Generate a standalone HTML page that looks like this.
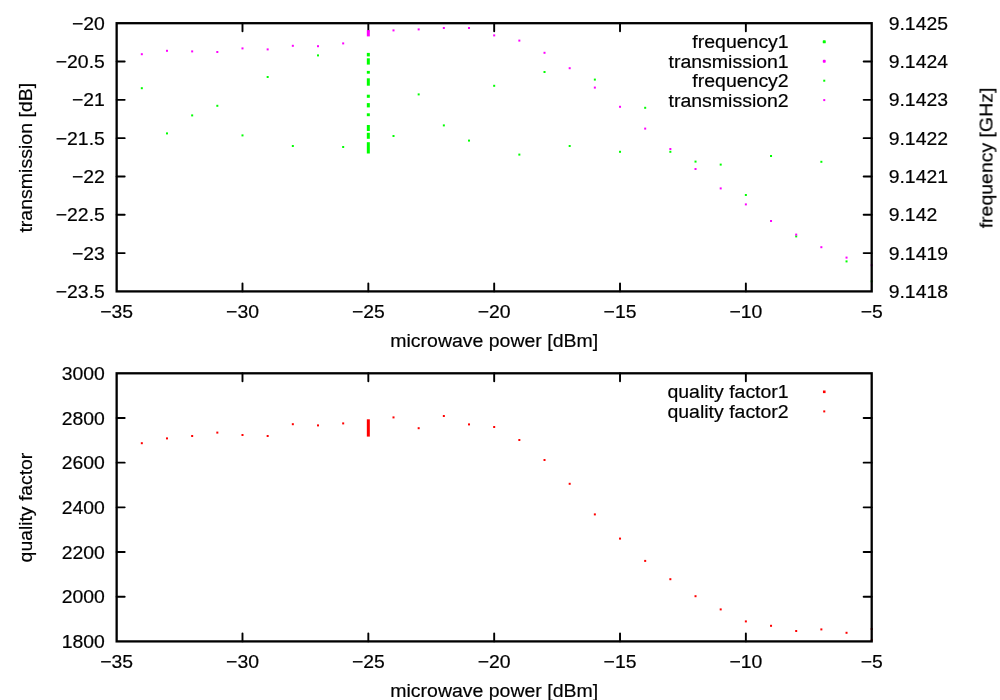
<!DOCTYPE html>
<html lang="en"><head><meta charset="utf-8"><title>plot</title>
<style>html,body{margin:0;padding:0;background:#fff;}svg{display:block;}text{font-family:"Liberation Sans",sans-serif;font-size:18.2px;fill:#000;stroke:#000;stroke-width:0.2px;}text.l{font-size:19.2px;}text.r{font-size:19.2px;}</style>
</head><body>
<svg width="1000" height="700" viewBox="0 0 1000 700">
<rect x="0" y="0" width="1000" height="700" fill="#fff"/>
<path d="M116.65 61.51h8.05M871.70 61.51h-8.05M116.65 99.83h8.05M871.70 99.83h-8.05M116.65 138.14h8.05M871.70 138.14h-8.05M116.65 176.46h8.05M871.70 176.46h-8.05M116.65 214.77h8.05M871.70 214.77h-8.05M116.65 253.09h8.05M871.70 253.09h-8.05M242.49 291.40v-8.05M242.49 23.20v8.05M368.33 291.40v-8.05M368.33 23.20v8.05M494.18 291.40v-8.05M494.18 23.20v8.05M620.02 291.40v-8.05M620.02 23.20v8.05M745.86 291.40v-8.05M745.86 23.20v8.05" stroke="#000" stroke-width="1.9" stroke-linecap="round" fill="none"/>
<path d="M116.65 417.98h8.05M871.70 417.98h-8.05M116.65 462.67h8.05M871.70 462.67h-8.05M116.65 507.35h8.05M871.70 507.35h-8.05M116.65 552.03h8.05M871.70 552.03h-8.05M116.65 596.72h8.05M871.70 596.72h-8.05M242.49 641.40v-8.05M242.49 373.30v8.05M368.33 641.40v-8.05M368.33 373.30v8.05M494.18 641.40v-8.05M494.18 373.30v8.05M620.02 641.40v-8.05M620.02 373.30v8.05M745.86 641.40v-8.05M745.86 373.30v8.05" stroke="#000" stroke-width="1.9" stroke-linecap="round" fill="none"/>
<g fill="#00ff00"><rect x="140.82" y="87.20" width="2.00" height="2.00"/><rect x="165.99" y="132.40" width="2.00" height="2.00"/><rect x="191.16" y="114.40" width="2.00" height="2.00"/><rect x="216.32" y="104.80" width="2.00" height="2.00"/><rect x="241.49" y="134.40" width="2.00" height="2.00"/><rect x="266.66" y="76.00" width="2.00" height="2.00"/><rect x="291.83" y="145.00" width="2.00" height="2.00"/><rect x="317.00" y="54.40" width="2.00" height="2.00"/><rect x="342.17" y="146.00" width="2.00" height="2.00"/><rect x="392.50" y="135.00" width="2.00" height="2.00"/><rect x="417.67" y="93.40" width="2.00" height="2.00"/><rect x="442.84" y="124.40" width="2.00" height="2.00"/><rect x="468.01" y="139.60" width="2.00" height="2.00"/><rect x="493.18" y="84.80" width="2.00" height="2.00"/><rect x="518.34" y="153.60" width="2.00" height="2.00"/><rect x="543.51" y="71.00" width="2.00" height="2.00"/><rect x="568.68" y="145.00" width="2.00" height="2.00"/><rect x="593.85" y="78.60" width="2.00" height="2.00"/><rect x="619.02" y="150.80" width="2.00" height="2.00"/><rect x="644.18" y="106.80" width="2.00" height="2.00"/><rect x="669.35" y="150.80" width="2.00" height="2.00"/><rect x="694.52" y="160.60" width="2.00" height="2.00"/><rect x="719.69" y="163.60" width="2.00" height="2.00"/><rect x="744.86" y="194.00" width="2.00" height="2.00"/><rect x="770.03" y="155.00" width="2.00" height="2.00"/><rect x="795.20" y="235.40" width="2.00" height="2.00"/><rect x="820.36" y="160.80" width="2.00" height="2.00"/><rect x="845.53" y="260.40" width="2.00" height="2.00"/><rect x="870.70" y="280.30" width="2.00" height="2.00"/></g>
<g fill="#00ff00"><rect x="366.83" y="52.90" width="3.00" height="3.50"/><rect x="366.83" y="58.30" width="3.00" height="6.30"/><rect x="366.83" y="70.90" width="3.00" height="2.80"/><rect x="366.83" y="78.30" width="3.00" height="7.40"/><rect x="366.83" y="94.70" width="3.00" height="3.10"/><rect x="366.83" y="103.10" width="3.00" height="4.30"/><rect x="366.83" y="113.30" width="3.00" height="2.90"/><rect x="366.83" y="125.00" width="3.00" height="6.00"/><rect x="366.83" y="132.80" width="3.00" height="6.00"/><rect x="366.83" y="142.20" width="3.00" height="11.30"/></g>
<g fill="#ff00ff"><rect x="140.82" y="53.20" width="2.00" height="2.00"/><rect x="165.99" y="49.80" width="2.00" height="2.00"/><rect x="191.16" y="50.40" width="2.00" height="2.00"/><rect x="216.32" y="51.00" width="2.00" height="2.00"/><rect x="241.49" y="47.40" width="2.00" height="2.00"/><rect x="266.66" y="48.40" width="2.00" height="2.00"/><rect x="291.83" y="44.80" width="2.00" height="2.00"/><rect x="317.00" y="45.20" width="2.00" height="2.00"/><rect x="342.17" y="42.40" width="2.00" height="2.00"/><rect x="392.50" y="29.40" width="2.00" height="2.00"/><rect x="417.67" y="28.40" width="2.00" height="2.00"/><rect x="442.84" y="27.00" width="2.00" height="2.00"/><rect x="468.01" y="27.00" width="2.00" height="2.00"/><rect x="493.18" y="34.40" width="2.00" height="2.00"/><rect x="518.34" y="39.60" width="2.00" height="2.00"/><rect x="543.51" y="51.80" width="2.00" height="2.00"/><rect x="568.68" y="67.20" width="2.00" height="2.00"/><rect x="593.85" y="86.60" width="2.00" height="2.00"/><rect x="619.02" y="105.80" width="2.00" height="2.00"/><rect x="644.18" y="127.60" width="2.00" height="2.00"/><rect x="669.35" y="148.00" width="2.00" height="2.00"/><rect x="694.52" y="168.00" width="2.00" height="2.00"/><rect x="719.69" y="187.40" width="2.00" height="2.00"/><rect x="744.86" y="203.40" width="2.00" height="2.00"/><rect x="770.03" y="220.00" width="2.00" height="2.00"/><rect x="795.20" y="233.60" width="2.00" height="2.00"/><rect x="820.36" y="246.20" width="2.00" height="2.00"/><rect x="845.53" y="256.60" width="2.00" height="2.00"/><rect x="870.70" y="264.20" width="2.00" height="2.00"/></g>
<g fill="#ff00ff"><rect x="366.83" y="30.10" width="3.00" height="6.30"/></g>
<g fill="#ff0000"><rect x="140.82" y="442.20" width="2.00" height="2.00"/><rect x="165.99" y="437.40" width="2.00" height="2.00"/><rect x="191.16" y="435.00" width="2.00" height="2.00"/><rect x="216.32" y="431.60" width="2.00" height="2.00"/><rect x="241.49" y="434.00" width="2.00" height="2.00"/><rect x="266.66" y="435.00" width="2.00" height="2.00"/><rect x="291.83" y="423.20" width="2.00" height="2.00"/><rect x="317.00" y="424.40" width="2.00" height="2.00"/><rect x="342.17" y="422.40" width="2.00" height="2.00"/><rect x="392.50" y="416.40" width="2.00" height="2.00"/><rect x="417.67" y="427.20" width="2.00" height="2.00"/><rect x="442.84" y="415.00" width="2.00" height="2.00"/><rect x="468.01" y="423.40" width="2.00" height="2.00"/><rect x="493.18" y="426.00" width="2.00" height="2.00"/><rect x="518.34" y="439.00" width="2.00" height="2.00"/><rect x="543.51" y="459.00" width="2.00" height="2.00"/><rect x="568.68" y="482.80" width="2.00" height="2.00"/><rect x="593.85" y="513.40" width="2.00" height="2.00"/><rect x="619.02" y="537.60" width="2.00" height="2.00"/><rect x="644.18" y="559.90" width="2.00" height="2.00"/><rect x="669.35" y="578.20" width="2.00" height="2.00"/><rect x="694.52" y="595.20" width="2.00" height="2.00"/><rect x="719.69" y="608.40" width="2.00" height="2.00"/><rect x="744.86" y="620.40" width="2.00" height="2.00"/><rect x="770.03" y="624.80" width="2.00" height="2.00"/><rect x="795.20" y="630.00" width="2.00" height="2.00"/><rect x="820.36" y="628.40" width="2.00" height="2.00"/><rect x="845.53" y="631.80" width="2.00" height="2.00"/><rect x="870.70" y="628.00" width="2.00" height="2.00"/><rect x="870.70" y="639.20" width="2.00" height="2.00"/></g>
<g fill="#ff0000"><rect x="366.83" y="419.30" width="3.00" height="17.30"/></g>
<g fill="#00ff00"><rect x="822.75" y="40.35" width="3.00" height="3.00" rx="0.7"/></g>
<g fill="#ff00ff"><rect x="822.80" y="59.85" width="2.90" height="2.90" rx="0.8"/></g>
<g fill="#00ff00"><rect x="823.25" y="79.70" width="2.00" height="2.00"/></g>
<g fill="#ff00ff"><rect x="823.25" y="99.10" width="2.00" height="2.00"/></g>
<g fill="#ff0000"><rect x="822.95" y="390.50" width="2.60" height="2.60"/></g>
<g fill="#ff0000"><rect x="823.25" y="410.40" width="2.00" height="2.00"/></g>
<rect x="116.65" y="23.20" width="755.05" height="268.20" stroke="#000" stroke-width="2.3" fill="none"/>
<rect x="116.65" y="373.30" width="755.05" height="268.10" stroke="#000" stroke-width="2.3" fill="none"/>
<g opacity="0.999">
<text transform="translate(104.80 29.80) scale(1.065 1)" text-anchor="end">−20</text>
<text transform="translate(888.70 29.80) scale(1.065 1)" text-anchor="start">9.1425</text>
<text transform="translate(104.80 68.11) scale(1.065 1)" text-anchor="end">−20.5</text>
<text transform="translate(888.70 68.11) scale(1.065 1)" text-anchor="start">9.1424</text>
<text transform="translate(104.80 106.43) scale(1.065 1)" text-anchor="end">−21</text>
<text transform="translate(888.70 106.43) scale(1.065 1)" text-anchor="start">9.1423</text>
<text transform="translate(104.80 144.74) scale(1.065 1)" text-anchor="end">−21.5</text>
<text transform="translate(888.70 144.74) scale(1.065 1)" text-anchor="start">9.1422</text>
<text transform="translate(104.80 183.06) scale(1.065 1)" text-anchor="end">−22</text>
<text transform="translate(888.70 183.06) scale(1.065 1)" text-anchor="start">9.1421</text>
<text transform="translate(104.80 221.37) scale(1.065 1)" text-anchor="end">−22.5</text>
<text transform="translate(888.70 221.37) scale(1.065 1)" text-anchor="start">9.142</text>
<text transform="translate(104.80 259.69) scale(1.065 1)" text-anchor="end">−23</text>
<text transform="translate(888.70 259.69) scale(1.065 1)" text-anchor="start">9.1419</text>
<text transform="translate(104.80 298.00) scale(1.065 1)" text-anchor="end">−23.5</text>
<text transform="translate(888.70 298.00) scale(1.065 1)" text-anchor="start">9.1418</text>
<text transform="translate(104.80 379.90) scale(1.065 1)" text-anchor="end">3000</text>
<text transform="translate(104.80 424.58) scale(1.065 1)" text-anchor="end">2800</text>
<text transform="translate(104.80 469.27) scale(1.065 1)" text-anchor="end">2600</text>
<text transform="translate(104.80 513.95) scale(1.065 1)" text-anchor="end">2400</text>
<text transform="translate(104.80 558.63) scale(1.065 1)" text-anchor="end">2200</text>
<text transform="translate(104.80 603.32) scale(1.065 1)" text-anchor="end">2000</text>
<text transform="translate(104.80 648.00) scale(1.065 1)" text-anchor="end">1800</text>
<text transform="translate(116.65 317.80) scale(1.065 1)" text-anchor="middle">−35</text>
<text transform="translate(116.65 667.80) scale(1.065 1)" text-anchor="middle">−35</text>
<text transform="translate(242.49 317.80) scale(1.065 1)" text-anchor="middle">−30</text>
<text transform="translate(242.49 667.80) scale(1.065 1)" text-anchor="middle">−30</text>
<text transform="translate(368.33 317.80) scale(1.065 1)" text-anchor="middle">−25</text>
<text transform="translate(368.33 667.80) scale(1.065 1)" text-anchor="middle">−25</text>
<text transform="translate(494.18 317.80) scale(1.065 1)" text-anchor="middle">−20</text>
<text transform="translate(494.18 667.80) scale(1.065 1)" text-anchor="middle">−20</text>
<text transform="translate(620.02 317.80) scale(1.065 1)" text-anchor="middle">−15</text>
<text transform="translate(620.02 667.80) scale(1.065 1)" text-anchor="middle">−15</text>
<text transform="translate(745.86 317.80) scale(1.065 1)" text-anchor="middle">−10</text>
<text transform="translate(745.86 667.80) scale(1.065 1)" text-anchor="middle">−10</text>
<text transform="translate(871.70 317.80) scale(1.065 1)" text-anchor="middle">−5</text>
<text transform="translate(871.70 667.80) scale(1.065 1)" text-anchor="middle">−5</text>
<text class="l" transform="translate(494.18 347.20) scale(1.0155 1)" text-anchor="middle">microwave power [dBm]</text>
<text class="l" transform="translate(494.18 697.20) scale(1.0155 1)" text-anchor="middle">microwave power [dBm]</text>
<text class="r" transform="translate(31.90 157.70) rotate(-90) scale(1.018 1)" text-anchor="middle">transmission [dB]</text>
<text class="r" transform="translate(31.90 507.55) rotate(-90) scale(1.008 1)" text-anchor="middle">quality factor</text>
<text class="r" transform="translate(992.50 158.00) rotate(-90) scale(1.015 1)" text-anchor="middle">frequency [GHz]</text>
<text class="l" transform="translate(788.70 48.00) scale(1.0155 1)" text-anchor="end">frequency1</text>
<text class="l" transform="translate(788.70 68.00) scale(1.0155 1)" text-anchor="end">transmission1</text>
<text class="l" transform="translate(788.70 87.00) scale(1.0155 1)" text-anchor="end">frequency2</text>
<text class="l" transform="translate(788.70 107.00) scale(1.0155 1)" text-anchor="end">transmission2</text>
<text class="l" transform="translate(788.70 398.00) scale(1.0155 1)" text-anchor="end">quality factor1</text>
<text class="l" transform="translate(788.70 418.00) scale(1.0155 1)" text-anchor="end">quality factor2</text>
</g>
</svg>
</body></html>
